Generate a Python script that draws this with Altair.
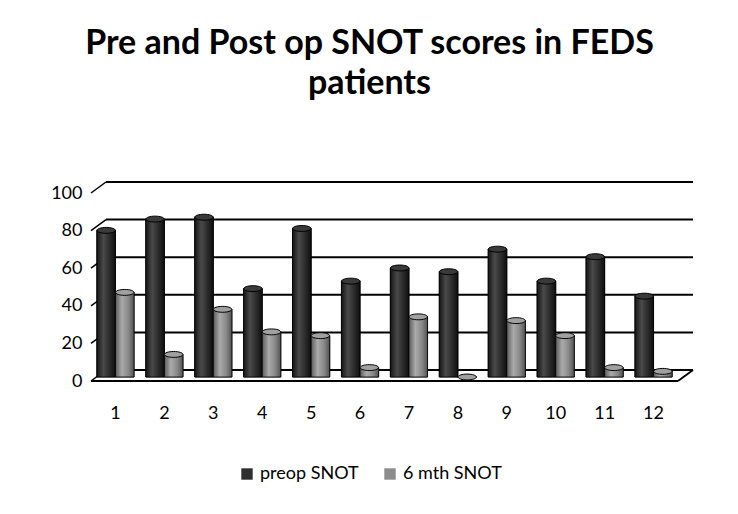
import altair as alt
import pandas as pd

patients = [str(i) for i in range(1, 13)]
preop = [78, 84, 85, 47, 79, 51, 58, 56, 68, 51, 64, 43]
post6 = [45, 12, 36, 24, 22, 5, 32, 0, 30, 22, 5, 3]
series_names = ["preop SNOT", "6 mth SNOT"]
y_ticks = [0, 20, 40, 60, 80, 100]
title_lines = ["Pre and Post op SNOT scores in FEDS", "patients"]

rows = []
for p, a, b in zip(patients, preop, post6):
    rows.append({"patient": p, "series": series_names[0], "value": a})
    rows.append({"patient": p, "series": series_names[1], "value": b})
df = pd.DataFrame(rows)
ticks_df = pd.DataFrame({"t": y_ticks})

W, H = 587, 188
DX, DY = 15, -11   # depth offset of back wall
BX, BY = 7, -4     # bars sit at mid depth
FONT = "Lato"

yscale = alt.Scale(domain=[0, 100], nice=False, zero=True)
xscale = alt.Scale(domain=patients, paddingInner=0.24, paddingOuter=0.12)
offscale = alt.Scale(domain=series_names)

y_axis = alt.Axis(title=None, domain=False, ticks=False, grid=False,
                  values=y_ticks, labelPadding=9, labelFontSize=18,
                  labelFont=FONT, labelColor="black")
x_enc = alt.X("patient:N", scale=xscale, sort=patients,
              axis=alt.Axis(title=None, labelAngle=0, domain=False, ticks=False,
                            grid=False, labelPadding=23, labelFontSize=18,
                            labelFont=FONT, labelColor="black"))

def yq(field):
    return alt.Y(field, scale=yscale, axis=y_axis)

# back-wall gridlines
grid = alt.Chart(ticks_df).mark_rule(color="black", strokeWidth=2, yOffset=DY).encode(
    y=yq("t:Q"), x=alt.value(DX), x2=alt.value(W + DX),
)
# left depth diagonals
diag = alt.Chart(ticks_df).mark_rule(color="black", strokeWidth=1.5, y2Offset=DY).encode(
    y=yq("t:Q"), y2="t:Q", x=alt.value(0), x2=alt.value(DX),
)
# floor front edge and right diagonal
floor_front = alt.Chart(ticks_df).transform_filter("datum.t == 0").mark_rule(
    color="black", strokeWidth=2).encode(
    y=yq("t:Q"), x=alt.value(0), x2=alt.value(W))
floor_right = alt.Chart(ticks_df).transform_filter("datum.t == 0").mark_rule(
    color="black", strokeWidth=2, y2Offset=DY).encode(
    y=yq("t:Q"), y2="t:Q", x=alt.value(W), x2=alt.value(W + DX))

bars = alt.Chart(df).mark_bar(xOffset=BX, yOffset=BY, y2Offset=BY, stroke="black",
                              strokeWidth=0.8).encode(
    x=x_enc,
    xOffset=alt.XOffset("series:N", scale=offscale, sort=series_names),
    y=yq("value:Q"),
    color=alt.Color("series:N", sort=series_names,
                    scale=alt.Scale(domain=series_names, range=["#2e2e2e", "#8c8c8c"]),
                    legend=alt.Legend(title=None, orient="none", direction="horizontal",
                                      legendX=147, legendY=272, symbolType="square",
                                      symbolSize=130, symbolStrokeWidth=0,
                                      labelFontSize=18, labelFont=FONT,
                                      labelColor="black", columnPadding=22,
                                      labelOffset=4, padding=0)),
)

grad_dark = alt.Gradient(gradient="linear", x1=0, x2=1, y1=0, y2=0, stops=[
    alt.GradientStop(offset=0, color="#151515"),
    alt.GradientStop(offset=0.35, color="#4a4a4a"),
    alt.GradientStop(offset=0.7, color="#2a2a2a"),
    alt.GradientStop(offset=1, color="#0e0e0e")])
grad_grey = alt.Gradient(gradient="linear", x1=0, x2=1, y1=0, y2=0, stops=[
    alt.GradientStop(offset=0, color="#5c5c5c"),
    alt.GradientStop(offset=0.35, color="#aaaaaa"),
    alt.GradientStop(offset=0.7, color="#888888"),
    alt.GradientStop(offset=1, color="#525252")])

def shaded(name, grad):
    return alt.Chart(df).transform_filter(alt.datum.series == name).mark_bar(
        xOffset=BX, yOffset=BY, y2Offset=BY, fill=grad, stroke="black",
        strokeWidth=0.8).encode(
        x=x_enc,
        xOffset=alt.XOffset("series:N", scale=offscale, sort=series_names),
        y=yq("value:Q"),
    )

ELLIPSE = "M -1 0 A 1 0.32 0 1 0 1 0 A 1 0.32 0 1 0 -1 0 Z"

def tops(name, col):
    return alt.Chart(df).transform_filter(alt.datum.series == name).mark_point(
        shape=ELLIPSE, filled=True, fill=col, stroke="black", strokeWidth=1,
        opacity=1, size=340, xOffset=BX, yOffset=BY).encode(
        x=x_enc,
        xOffset=alt.XOffset("series:N", scale=offscale, sort=series_names),
        y=yq("value:Q"),
    )

chart = alt.layer(
    grid, diag, floor_front, floor_right, bars,
    shaded(series_names[0], grad_dark), shaded(series_names[1], grad_grey),
    tops(series_names[0], "#3a3a3a"), tops(series_names[1], "#a0a0a0"),
).properties(
    width=W, height=H,
    background="white",
    autosize=alt.AutoSizeParams(type="none"),
    padding={"left": 83, "top": 185, "right": 52, "bottom": 125},
    title=alt.TitleParams(text=title_lines, fontSize=34, font=FONT, fontWeight="bold",
                          color="black", anchor="middle", frame="group", dx=-15,
                          offset=80, lineHeight=40),
).configure_view(strokeWidth=0, stroke=None)

chart.save("out.html", embed_options={"renderer": "svg", "actions": False})
